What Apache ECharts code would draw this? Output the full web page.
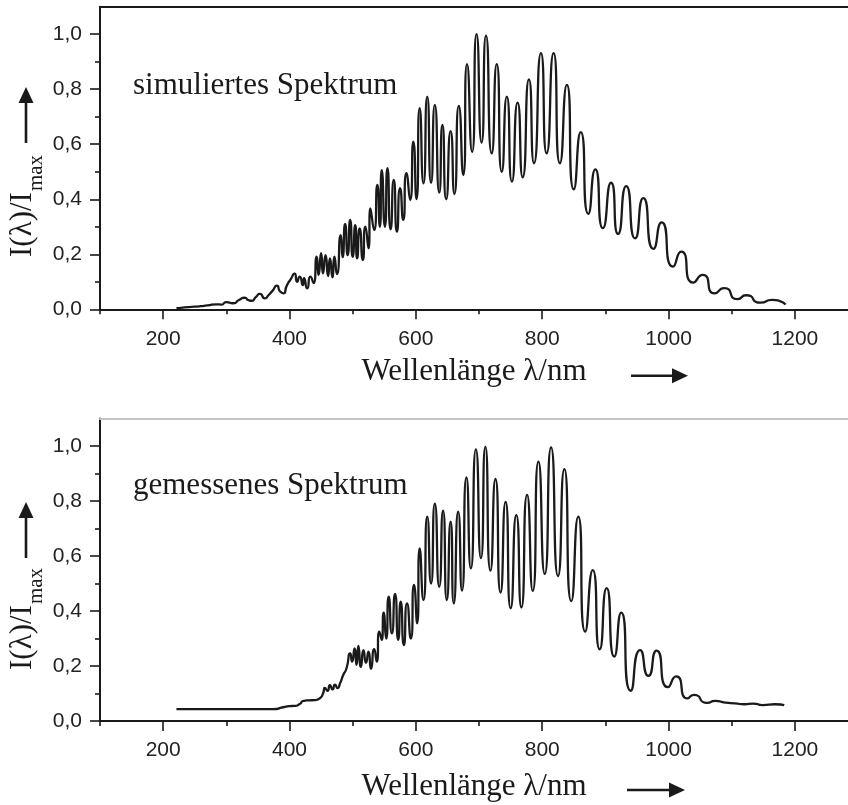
<!DOCTYPE html>
<html>
<head>
<meta charset="utf-8">
<script src="https://cdn.jsdelivr.net/npm/echarts@6/dist/echarts.min.js"></script>
<style>
  html, body { margin: 0; padding: 0; background: #fff; }
  #chart { width: 848px; height: 805px; }
</style>
</head>
<body>
<div id="chart"></div>
<script>
// Simulated spectrum: wavelength (nm) and normalised intensity I/Imax
const simWavelength = [
  221, 240, 258, 270, 284, 292, 300, 311, 320, 329, 335, 340, 347, 353, 361, 367, 373, 380, 385, 390,
  396, 402, 408, 412, 416, 421, 423, 428, 433, 438, 443, 446, 450, 453, 457, 461, 464, 468, 471, 475,
  481, 484, 488, 492, 496, 500, 504, 507, 511, 516, 520, 525, 528, 534, 539, 543, 546, 551, 555, 560,
  565, 570, 575, 580, 585, 591, 596, 601, 606, 612, 618, 624, 630, 637, 642, 648, 655, 661, 668, 675,
  681, 689, 696, 704, 711, 720, 728, 736, 744, 752, 761, 769, 779, 787, 798, 807, 818, 828, 839, 850,
  861, 873, 884, 896, 909, 920, 933, 947, 960, 976, 989, 1007, 1020, 1039, 1054, 1073, 1088, 1109, 1123, 1145,
  1164, 1185
];
const simIntensity = [
  0.004, 0.008, 0.011, 0.014, 0.018, 0.017, 0.026, 0.022, 0.034, 0.042, 0.033, 0.031, 0.045, 0.056, 0.040, 0.052, 0.067, 0.086, 0.065, 0.058,
  0.088, 0.110, 0.130, 0.100, 0.119, 0.088, 0.113, 0.076, 0.119, 0.095, 0.191, 0.125, 0.204, 0.131, 0.197, 0.121, 0.185, 0.116, 0.191, 0.128,
  0.270, 0.190, 0.310, 0.197, 0.325, 0.191, 0.306, 0.185, 0.294, 0.179, 0.300, 0.222, 0.367, 0.288, 0.452, 0.300, 0.506, 0.300, 0.513, 0.291,
  0.470, 0.282, 0.440, 0.325, 0.495, 0.397, 0.609, 0.401, 0.731, 0.458, 0.773, 0.460, 0.743, 0.424, 0.670, 0.400, 0.648, 0.419, 0.739, 0.488,
  0.891, 0.572, 1.000, 0.606, 0.995, 0.567, 0.891, 0.500, 0.773, 0.464, 0.751, 0.480, 0.836, 0.531, 0.931, 0.567, 0.931, 0.531, 0.816, 0.436,
  0.644, 0.347, 0.509, 0.295, 0.460, 0.274, 0.448, 0.258, 0.404, 0.220, 0.316, 0.155, 0.210, 0.097, 0.125, 0.058, 0.077, 0.037, 0.051, 0.024,
  0.034, 0.017
];

// Measured spectrum
const measWavelength = [
  221, 260, 300, 340, 374, 390, 400, 408, 416, 422, 430, 440, 448, 453, 456, 460, 464, 468, 472, 476,
  480, 485, 490, 496, 499, 503, 506, 509, 513, 517, 521, 525, 529, 534, 538, 542, 546, 549, 553, 557,
  562, 567, 572, 576, 581, 586, 592, 597, 602, 606, 612, 618, 624, 630, 637, 643, 649, 655, 660, 667,
  673, 680, 687, 695, 703, 710, 718, 726, 734, 742, 750, 759, 767, 776, 785, 794, 804, 814, 825, 835,
  846, 857, 868, 880, 891, 902, 914, 925, 940, 955, 968, 981, 999, 1012, 1030, 1040, 1061, 1074, 1090, 1105,
  1120, 1134, 1149, 1168, 1183
];
const measIntensity = [
  0.043, 0.043, 0.043, 0.043, 0.043, 0.050, 0.054, 0.055, 0.062, 0.073, 0.075, 0.076, 0.083, 0.100, 0.120, 0.110, 0.130, 0.115, 0.132, 0.120,
  0.137, 0.167, 0.190, 0.246, 0.216, 0.264, 0.204, 0.273, 0.197, 0.258, 0.212, 0.252, 0.190, 0.261, 0.216, 0.325, 0.295, 0.394, 0.300, 0.452,
  0.319, 0.462, 0.295, 0.434, 0.276, 0.428, 0.300, 0.495, 0.355, 0.628, 0.440, 0.743, 0.500, 0.790, 0.488, 0.765, 0.440, 0.725, 0.428, 0.761,
  0.474, 0.886, 0.555, 0.988, 0.592, 0.997, 0.547, 0.880, 0.467, 0.797, 0.410, 0.749, 0.413, 0.822, 0.473, 0.943, 0.535, 0.995, 0.527, 0.916,
  0.436, 0.743, 0.325, 0.549, 0.261, 0.483, 0.234, 0.394, 0.110, 0.258, 0.164, 0.256, 0.123, 0.162, 0.082, 0.095, 0.066, 0.073, 0.067, 0.064,
  0.061, 0.063, 0.058, 0.061, 0.057
];

// Axis ticks
const xMajorTicks = [200, 400, 600, 800, 1000, 1200];
const xMinorTicks = [100, 300, 500, 700, 900, 1100];
const yMajorTicks = [0, 0.2, 0.4, 0.6, 0.8, 1.0];
const yMinorTicks = [0.1, 0.3, 0.5, 0.7, 0.9];

const xTitle = 'Wellenlänge λ/nm';
const yTitleMain = 'I(λ)/I';
const yTitleSub = 'max';
const panelLabels = ['simuliertes Spektrum', 'gemessenes Spektrum'];

const X_MIN = 100, X_MAX = 1284, Y_MIN = 0, Y_MAX = 1.1;
const INK = '#1a1a1a';
const SANS = 'Liberation Sans';
const SERIF = 'Liberation Serif';

const panels = [
  { top: 6.7, height: 302.6, topLine: INK, nameGap: 47 },
  { top: 418.5, height: 302.5, topLine: '#c4c4c4', nameGap: 50 }
];

const fmtX = v => String(Math.round(v));
const fmtY = v => v.toFixed(1).replace('.', ',');

const grids = [], xAxes = [], yAxes = [];
panels.forEach((p, i) => {
  grids.push({ left: 100, right: 0, top: p.top, height: p.height });
  // main bottom axis with long ticks and labels
  xAxes.push({
    type: 'value', gridIndex: i, min: X_MIN, max: X_MAX, position: 'bottom',
    name: xTitle, nameLocation: 'middle', nameGap: p.nameGap,
    nameTextStyle: { fontFamily: SERIF, fontSize: 31, color: INK },
    axisLine: { show: true, lineStyle: { color: INK, width: 2 } },
    axisTick: { show: true, customValues: xMajorTicks, length: 10, lineStyle: { color: INK, width: 1.6 } },
    axisLabel: { show: true, customValues: xMajorTicks, formatter: fmtX, margin: 19, fontFamily: SANS, fontSize: 21, color: '#222' },
    splitLine: { show: false }
  });
  // short intermediate ticks
  xAxes.push({
    type: 'value', gridIndex: i, min: X_MIN, max: X_MAX, position: 'bottom',
    axisLine: { show: false },
    axisTick: { show: true, customValues: xMinorTicks, length: 5, lineStyle: { color: INK, width: 1.6 } },
    axisLabel: { show: false }, splitLine: { show: false }
  });
  // frame line along the top
  xAxes.push({
    type: 'value', gridIndex: i, min: X_MIN, max: X_MAX, position: 'top',
    axisLine: { show: true, lineStyle: { color: p.topLine, width: 2 } },
    axisTick: { show: false }, axisLabel: { show: false }, splitLine: { show: false }
  });
  yAxes.push({
    type: 'value', gridIndex: i, min: Y_MIN, max: Y_MAX, position: 'left',
    axisLine: { show: true, lineStyle: { color: INK, width: 2 } },
    axisTick: { show: true, customValues: yMajorTicks, length: 10, lineStyle: { color: INK, width: 1.6 } },
    axisLabel: { show: true, customValues: yMajorTicks, margin: 18, formatter: fmtY, fontFamily: SANS, fontSize: 21, color: '#222' },
    splitLine: { show: false }
  });
  yAxes.push({
    type: 'value', gridIndex: i, min: Y_MIN, max: Y_MAX, position: 'left',
    axisLine: { show: false },
    axisTick: { show: true, customValues: yMinorTicks, length: 5, lineStyle: { color: INK, width: 1.6 } },
    axisLabel: { show: false }, splitLine: { show: false }
  });
});

const pair = (xs, ys) => xs.map((x, k) => [x, ys[k]]);

const lineStyle = { color: INK, width: 2.3 };
const series = [
  {
    type: 'line', xAxisIndex: 0, yAxisIndex: 0, data: pair(simWavelength, simIntensity),
    showSymbol: false, smooth: 0.75, lineStyle: lineStyle, silent: true
  },
  {
    type: 'line', xAxisIndex: 3, yAxisIndex: 2, data: pair(measWavelength, measIntensity),
    showSymbol: false, smooth: 0.75, lineStyle: lineStyle, silent: true
  }
];

// width of the main part of the vertical title, for placing the subscript
const ctx = document.createElement('canvas').getContext('2d');
ctx.font = '31px "' + SERIF + '"';
const yMainWidth = ctx.measureText(yTitleMain).width;

function yTitle(cx, startY) {
  return {
    type: 'group', x: cx, y: startY, rotation: Math.PI / 2,
    children: [
      { type: 'text', x: 0, y: 0, style: { text: yTitleMain, font: '31px "' + SERIF + '"', fill: INK, align: 'left', verticalAlign: 'middle' } },
      { type: 'text', x: yMainWidth + 1, y: 13, style: { text: yTitleSub, font: '21px "' + SERIF + '"', fill: INK, align: 'left', verticalAlign: 'middle' } }
    ]
  };
}

function upArrow(x, tipY, tailY) {
  return [
    { type: 'line', shape: { x1: x, y1: tailY, x2: x, y2: tipY + 14 }, style: { stroke: INK, lineWidth: 2.6 } },
    { type: 'polygon', shape: { points: [[x - 7.5, tipY + 16], [x, tipY], [x + 7.5, tipY + 16]] }, style: { fill: INK } }
  ];
}
function rightArrow(y, tailX, tipX) {
  return [
    { type: 'line', shape: { x1: tailX, y1: y, x2: tipX - 14, y2: y }, style: { stroke: INK, lineWidth: 2.6 } },
    { type: 'polygon', shape: { points: [[tipX - 16, y - 7.5], [tipX, y], [tipX - 16, y + 7.5]] }, style: { fill: INK } }
  ];
}

const graphic = [
  yTitle(23, 257),
  yTitle(23, 670),
  ...upArrow(26, 87, 143),
  ...upArrow(26, 502, 558),
  ...rightArrow(375.7, 631, 688),
  ...rightArrow(790, 627, 685),
  { type: 'text', x: 133, y: 85.5, style: { text: panelLabels[0], font: '31px "' + SERIF + '"', fill: INK, align: 'left', verticalAlign: 'middle' } },
  { type: 'text', x: 133, y: 485.5, style: { text: panelLabels[1], font: '31px "' + SERIF + '"', fill: INK, align: 'left', verticalAlign: 'middle' } }
];

const chart = echarts.init(document.getElementById('chart'), null, { renderer: 'canvas' });
chart.setOption({
  animation: false,
  backgroundColor: '#ffffff',
  grid: grids,
  xAxis: xAxes,
  yAxis: yAxes,
  series: series,
  graphic: graphic
});
</script>
</body>
</html>
